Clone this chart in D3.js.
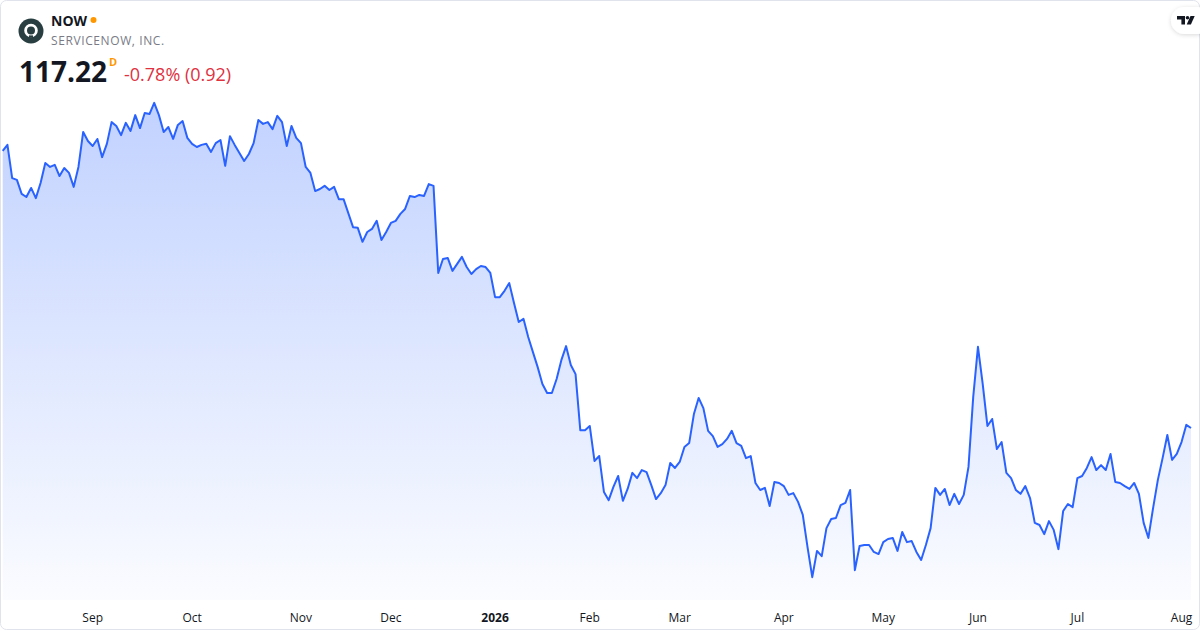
<!DOCTYPE html>
<html>
<head>
<meta charset="utf-8">
<script src="https://cdn.jsdelivr.net/npm/d3@7"></script>
<style>
	html, body { margin: 0; padding: 0; background: #fff; }
	svg { display: block; font-family: "Open Sans", sans-serif; }
</style>
</head>
<body>
<svg id="chart" width="1200" height="630"></svg>
<script>
// daily closes, Aug 5 2025 -> Aug 5 2026 (trading days only)
var closes = [
	196.4, 198.1, 188.6, 188.1, 184.1, 183.2, 185.8, 182.9, 187.2, 192.9,
	191.8, 192.4, 189.2, 191.5, 190.1, 186.1, 191.8, 201.8, 199.2, 197.8,
	199.8, 194.6, 198.4, 204.6, 203.5, 200.9, 204.4, 202.1, 206.6, 202.9,
	207.2, 206.9, 210.1, 206.6, 201.8, 203.2, 199.8, 203.8, 204.9, 200.1,
	198.4, 197.5, 198.1, 198.4, 196.1, 198.6, 199.5, 192.1, 200.6, 198.1,
	195.8, 193.5, 195.5, 198.6, 205.2, 204.1, 204.6, 202.6, 206.4, 204.6,
	197.8, 203.5, 200.1, 198.6, 191.8, 190.1, 184.9, 185.5, 186.4, 185.2,
	186.1, 182.6, 182.6, 178.6, 174.6, 174.4, 170.4, 173.2, 174.1, 176.4,
	170.9, 173.2, 175.8, 176.4, 178.4, 179.8, 183.5, 183.2, 183.8, 183.5,
	186.9, 186.4, 161.5, 165.5, 165.8, 162.1, 164.1, 166.1, 163.2, 161.2,
	162.6, 163.5, 163.2, 161.5, 154.6, 154.6, 156.4, 158.6, 152.9, 147.5,
	148.4, 143.2, 138.9, 134.6, 129.8, 127.2, 127.2, 131.2, 136.6, 140.6,
	135.2, 132.6, 116.6, 116.6, 117.8, 107.8, 109.2, 98.9, 96.6, 100.4,
	103.5, 96.4, 99.8, 104.4, 102.9, 105.2, 104.6, 100.9, 96.9, 98.6,
	100.9, 107.2, 105.8, 107.5, 111.8, 112.9, 121.2, 125.8, 122.9, 116.4,
	114.9, 111.8, 112.6, 114.1, 116.4, 112.9, 112.1, 108.6, 109.2, 101.5,
	99.5, 100.1, 94.9, 101.8, 101.5, 100.6, 98.1, 98.6, 96.1, 92.4,
	83.2, 74.6, 82.1, 80.6, 88.6, 91.2, 91.5, 95.2, 95.8, 99.5,
	76.6, 83.5, 83.8, 83.8, 81.8, 81.2, 84.6, 85.5, 85.8, 82.1,
	87.5, 84.6, 84.9, 81.8, 79.5, 83.8, 88.6, 100.1, 98.1, 99.8,
	95.2, 98.4, 95.5, 98.1, 106.1, 126.1, 140.4, 129.8, 117.8, 119.8,
	111.2, 113.2, 104.4, 102.9, 99.5, 98.4, 100.6, 97.2, 90.1, 89.5,
	86.9, 90.6, 88.1, 82.6, 93.5, 95.5, 94.6, 102.9, 103.5, 105.8,
	108.9, 105.2, 106.6, 105.2, 109.8, 101.8, 101.5, 100.6, 99.8, 101.5,
	98.4, 90.1, 85.8, 94.4, 102.4, 108.6, 115.2, 108.1, 109.8, 113.2,
	118.1, 117.22
];

// month labels sit on the first trading day of each month (index into closes)
var tickLabels = ["Sep", "Oct", "Nov", "Dec", "2026", "Feb", "Mar", "Apr", "May", "Jun", "Jul", "Aug"];
var tickIndex = [19, 40, 63, 82, 104, 124, 143, 165, 186, 206, 227, 249];
var tickBold = ["2026"];

var symbol = "NOW";
var company = "SERVICENOW, INC.";
var lastPrice = "117.22";
var change = "-0.78% (0.92)";

var W = 1200, H = 630;
var svg = d3.select("#chart");

var x = d3.scaleLinear()
	.domain([0, closes.length - 1])
	.range([2.7, 1191]);

var y = d3.scaleLinear()
	.domain([68.07, 216.64])
	.range([600, 80]);

var defs = svg.append("defs");
var grad = defs.append("linearGradient")
	.attr("id", "fillGrad")
	.attr("gradientUnits", "userSpaceOnUse")
	.attr("x1", 0).attr("y1", 80)
	.attr("x2", 0).attr("y2", 600);
grad.append("stop").attr("offset", 0).attr("stop-color", "#2962ff").attr("stop-opacity", 0.3);
grad.append("stop").attr("offset", 1).attr("stop-color", "#2962ff").attr("stop-opacity", 0.02);

var shadow = defs.append("filter").attr("id", "pillShadow")
	.attr("x", "-50%").attr("y", "-50%").attr("width", "200%").attr("height", "200%");
shadow.append("feDropShadow")
	.attr("dx", 0).attr("dy", 1).attr("stdDeviation", 2)
	.attr("flood-color", "#000").attr("flood-opacity", 0.15);

defs.append("clipPath").attr("id", "pane")
	.append("rect").attr("x", 1).attr("y", 1).attr("width", W - 2).attr("height", 599);

// card
svg.append("rect")
	.attr("x", 0.5).attr("y", 0.5)
	.attr("width", W - 1).attr("height", H - 1)
	.attr("rx", 6)
	.attr("fill", "#fff")
	.attr("stroke", "#e0e3eb");

var plot = svg.append("g").attr("clip-path", "url(#pane)");

var area = d3.area()
	.x(function (d, i) { return x(i); })
	.y0(600)
	.y1(function (d) { return y(d); });

var line = d3.line()
	.x(function (d, i) { return x(i); })
	.y(function (d) { return y(d); });

plot.append("path")
	.datum(closes)
	.attr("d", area)
	.attr("fill", "url(#fillGrad)");

plot.append("path")
	.datum(closes)
	.attr("d", line)
	.attr("fill", "none")
	.attr("stroke", "#2962ff")
	.attr("stroke-width", 2)
	.attr("stroke-linejoin", "round");

// time axis
var axis = svg.append("g");
tickLabels.forEach(function (label, k) {
	axis.append("text")
		.attr("x", x(tickIndex[k]))
		.attr("y", 622)
		.attr("text-anchor", "middle")
		.attr("font-size", 12)
		.attr("font-weight", tickBold.indexOf(label) >= 0 ? 700 : 400)
		.attr("fill", "#131722")
		.text(label);
});

// header
var head = svg.append("g");

head.append("circle").attr("cx", 31).attr("cy", 31).attr("r", 12.5).attr("fill", "#293e40");
head.append("circle").attr("cx", 31).attr("cy", 30.5).attr("r", 5.4)
	.attr("fill", "none").attr("stroke", "#fff").attr("stroke-width", 2.8);
head.append("rect").attr("x", 29).attr("y", 35.4).attr("width", 4).attr("height", 2.2).attr("fill", "#293e40");

head.append("text")
	.attr("x", 51).attr("y", 26)
	.attr("font-size", 14).attr("font-weight", 700).attr("fill", "#131722")
	.text(symbol);
head.append("circle").attr("cx", 93.5).attr("cy", 20).attr("r", 3).attr("fill", "#ff9800");

head.append("text")
	.attr("x", 51).attr("y", 45)
	.attr("font-size", 12).attr("letter-spacing", 0.6).attr("fill", "#787b86")
	.text(company);

head.append("text")
	.attr("x", 19).attr("y", 82)
	.attr("font-size", 28).attr("font-weight", 700).attr("fill", "#131722")
	.text(lastPrice);
head.append("text")
	.attr("x", 109).attr("y", 66)
	.attr("font-size", 11).attr("font-weight", 700).attr("fill", "#ff9800")
	.text("D");
head.append("text")
	.attr("x", 124).attr("y", 81)
	.attr("font-size", 18).attr("fill", "#e0313f")
	.text(change);

// tradingview badge
var badge = svg.append("g");
badge.append("rect")
	.attr("x", 1171).attr("y", 7).attr("width", 40).attr("height", 27).attr("rx", 13.5)
	.attr("fill", "#fff").attr("filter", "url(#pillShadow)");
badge.append("path")
	.attr("d", "M1177 16h8v8.5h-3.6v-5h-4.4z")
	.attr("fill", "#131722");
badge.append("circle").attr("cx", 1187.5).attr("cy", 17.8).attr("r", 1.8).attr("fill", "#131722");
badge.append("path")
	.attr("d", "M1190.5 16h4.2l-3.8 8.5h-4.2z")
	.attr("fill", "#131722");
</script>
</body>
</html>
